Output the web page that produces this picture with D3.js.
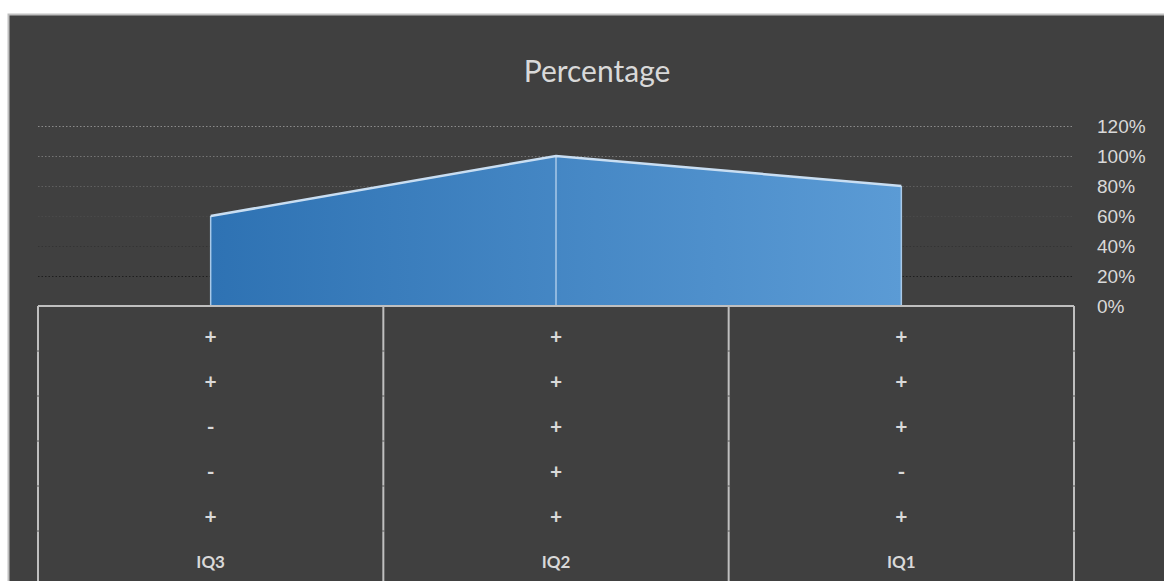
<!DOCTYPE html>
<html>
<head>
<meta charset="utf-8">
<script src="https://cdn.jsdelivr.net/npm/d3@7"></script>
<style>
  body { margin: 0; background: #ffffff; }
  svg { display: block; font-family: Lato, "Open Sans", sans-serif; }
</style>
</head>
<body>
<div id="vis-container"></div>
<script>
// chart data
const categories = ["IQ3", "IQ2", "IQ1"];
const values = [0.6, 1.0, 0.8];
const rowSigns = [
  ["+", "+", "-", "-", "+"],   // IQ3
  ["+", "+", "+", "+", "+"],   // IQ2
  ["+", "+", "+", "-", "+"]    // IQ1
];
const yTicks = [0, 0.2, 0.4, 0.6, 0.8, 1.0, 1.2];

const width = 1164;
const height = 581;
const plot = { left: 38, right: 1074, top: 126, bottom: 306 };
const rowHeight = 45;
const textColor = "#d9d9d9";

const svg = d3.select("#vis-container")
  .append("svg")
  .attr("width", width)
  .attr("height", height);

// frame
svg.append("rect")
  .attr("x", 8.5).attr("y", 14.5)
  .attr("width", width + 10).attr("height", height + 10)
  .attr("fill", "#404040")
  .attr("stroke", "#bfbfbf")
  .attr("stroke-width", 2);

const defs = svg.append("defs");

const areaGrad = defs.append("linearGradient")
  .attr("id", "areaGrad")
  .attr("gradientUnits", "userSpaceOnUse")
  .attr("x1", 210).attr("x2", 902).attr("y1", 0).attr("y2", 0);
areaGrad.append("stop").attr("offset", "0%").attr("stop-color", "#2e72b3");
areaGrad.append("stop").attr("offset", "100%").attr("stop-color", "#5b9bd5");

const gridGrad = defs.append("linearGradient")
  .attr("id", "gridGrad")
  .attr("gradientUnits", "userSpaceOnUse")
  .attr("x1", 0).attr("x2", 0).attr("y1", 126).attr("y2", 276);
gridGrad.append("stop").attr("offset", "0%").attr("stop-color", "#8c8c8c");
gridGrad.append("stop").attr("offset", "100%").attr("stop-color", "#1e1e1e");

// scales
const xScale = d3.scaleBand()
  .domain(categories)
  .range([plot.left, plot.right]);

const yScale = d3.scaleLinear()
  .domain([0, 1.2])
  .range([plot.bottom, plot.top]);

const xc = d => xScale(d) + xScale.bandwidth() / 2;

// title
svg.append("text")
  .attr("x", 597)
  .attr("y", 82)
  .attr("text-anchor", "middle")
  .attr("fill", textColor)
  .attr("font-size", "30px")
  .text("Percentage");

// gridlines
svg.append("g")
  .selectAll("line")
  .data(yTicks.filter(d => d > 0))
  .join("line")
  .attr("x1", plot.left)
  .attr("x2", plot.right)
  .attr("y1", d => yScale(d) + 0.5)
  .attr("y2", d => yScale(d) + 0.5)
  .attr("stroke", "url(#gridGrad)")
  .attr("stroke-width", 1)
  .attr("stroke-dasharray", "1.5,2");

// right axis
svg.append("g")
  .attr("transform", `translate(${plot.right}, 0)`)
  .call(d3.axisRight(yScale)
    .tickValues(yTicks)
    .tickFormat(d3.format(".0%"))
    .tickSize(0)
    .tickPadding(23))
  .call(g => g.select(".domain").remove())
  .call(g => g.selectAll("text")
    .attr("fill", textColor)
    .attr("font-size", "19px"));

// area
const pts = categories.map((c, i) => ({ c: c, v: values[i] }));

const area = d3.area()
  .x(d => xc(d.c))
  .y0(yScale(0))
  .y1(d => yScale(d.v));

svg.append("path")
  .datum(pts)
  .attr("d", area)
  .attr("fill", "url(#areaGrad)");

// drop lines
svg.append("g")
  .selectAll("line")
  .data(pts)
  .join("line")
  .attr("x1", d => xc(d.c))
  .attr("x2", d => xc(d.c))
  .attr("y1", d => yScale(d.v))
  .attr("y2", yScale(0))
  .attr("stroke", "#a9c9e8")
  .attr("stroke-width", 1.5);

// top outline
svg.append("path")
  .datum(pts)
  .attr("d", d3.line().x(d => xc(d.c)).y(d => yScale(d.v)))
  .attr("fill", "none")
  .attr("stroke", "#c9def2")
  .attr("stroke-width", 2.5);

// category table
const table = svg.append("g").attr("stroke", "#bfbfbf").attr("stroke-width", 2);

table.append("line")
  .attr("x1", plot.left).attr("x2", plot.right)
  .attr("y1", plot.bottom).attr("y2", plot.bottom);

const colEdges = categories.map(c => xScale(c)).concat([plot.right]);
table.selectAll(".col")
  .data(colEdges)
  .join("line")
  .attr("class", "col")
  .attr("x1", d => d).attr("x2", d => d)
  .attr("y1", plot.bottom).attr("y2", height);

// small row ticks on the column lines
const rowEdges = d3.range(1, 6).map(k => plot.bottom + k * rowHeight);
colEdges.forEach(x => {
  svg.append("g")
    .selectAll("line")
    .data(rowEdges)
    .join("line")
    .attr("x1", x - 1.5).attr("x2", x + 1.5)
    .attr("y1", d => d).attr("y2", d => d)
    .attr("stroke", "#5a5a5a")
    .attr("stroke-width", 1);
});

// sign rows and category labels
categories.forEach((c, i) => {
  const rows = rowSigns[i].concat([c]);
  svg.append("g")
    .selectAll("text")
    .data(rows)
    .join("text")
    .attr("x", xc(c))
    .attr("y", (d, j) => plot.bottom + rowHeight * j + 31)
    .attr("dy", "0.35em")
    .attr("text-anchor", "middle")
    .attr("fill", textColor)
    .attr("font-weight", "bold")
    .attr("font-size", (d, j) => j < 5 ? "21px" : "17px")
    .text(d => d);
});
</script>
</body>
</html>
